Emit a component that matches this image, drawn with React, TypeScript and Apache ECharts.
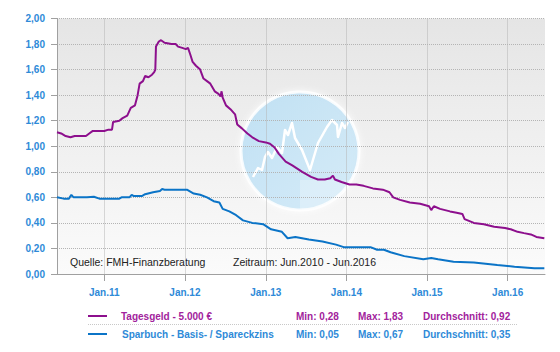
import React, { useEffect, useRef } from "react";
import * as echarts from "echarts";

const tagesDates = [
  "2010-06-01", "2010-06-20", "2010-07-10", "2010-08-01", "2010-08-20", "2010-09-15", "2010-10-10", "2010-10-25",
  "2010-11-10", "2010-12-10", "2011-01-01", "2011-01-20", "2011-02-05", "2011-02-10", "2011-03-10", "2011-03-25",
  "2011-04-15", "2011-05-01", "2011-05-20", "2011-06-01", "2011-06-10", "2011-06-25", "2011-07-05", "2011-07-20",
  "2011-08-05", "2011-08-15", "2011-08-20", "2011-08-23", "2011-09-05", "2011-09-15", "2011-10-01", "2011-11-01",
  "2011-11-20", "2011-12-01", "2011-12-20", "2012-01-05", "2012-01-15", "2012-01-25", "2012-02-05", "2012-02-20",
  "2012-03-10", "2012-03-25", "2012-04-10", "2012-04-25", "2012-05-15", "2012-06-01", "2012-06-10", "2012-06-15",
  "2012-06-20", "2012-07-05", "2012-07-25", "2012-08-15", "2012-08-25", "2012-09-15", "2012-10-10", "2012-11-01",
  "2012-12-01", "2013-01-01", "2013-01-20", "2013-02-10", "2013-03-01", "2013-04-01", "2013-05-01", "2013-06-15",
  "2013-07-25", "2013-08-25", "2013-09-25", "2013-10-20", "2013-11-01", "2013-11-10", "2013-12-10", "2014-01-15",
  "2014-02-15", "2014-03-20", "2014-05-01", "2014-06-15", "2014-07-15", "2014-08-01", "2014-09-01", "2014-10-15",
  "2014-12-01", "2015-01-10", "2015-01-20", "2015-02-01", "2015-03-01", "2015-04-15", "2015-05-15", "2015-06-10",
  "2015-06-20", "2015-08-01", "2015-09-15", "2015-11-01", "2015-12-20", "2016-01-15", "2016-02-15", "2016-03-15",
  "2016-04-15", "2016-05-10", "2016-06-15",
];
const tagesValues = [
  1.11, 1.10, 1.08, 1.07, 1.08, 1.08, 1.08, 1.10,
  1.12, 1.12, 1.12, 1.13, 1.13, 1.19, 1.20, 1.22,
  1.24, 1.30, 1.32, 1.40, 1.49, 1.51, 1.55, 1.54,
  1.56, 1.58, 1.60, 1.78, 1.82, 1.83, 1.81, 1.80,
  1.80, 1.78, 1.77, 1.76, 1.77, 1.72, 1.66, 1.63,
  1.60, 1.53, 1.51, 1.49, 1.43, 1.41, 1.39, 1.43,
  1.38, 1.32, 1.29, 1.25, 1.17, 1.14, 1.10, 1.07,
  1.04, 1.03, 1.02, 0.99, 0.94, 0.88, 0.85, 0.80,
  0.76, 0.74, 0.74, 0.75, 0.77, 0.74, 0.72, 0.70,
  0.70, 0.69, 0.67, 0.66, 0.64, 0.60, 0.58, 0.56,
  0.55, 0.53, 0.50, 0.53, 0.51, 0.49, 0.48, 0.47,
  0.43, 0.40, 0.39, 0.37, 0.36, 0.35, 0.33, 0.32,
  0.31, 0.29, 0.28,
];

const sparDates = [
  "2010-06-01", "2010-07-01", "2010-07-25", "2010-08-05", "2010-08-15", "2010-10-15", "2010-11-15", "2010-12-10",
  "2011-03-10", "2011-03-20", "2011-04-25", "2011-05-05", "2011-05-15", "2011-06-20", "2011-07-05", "2011-08-10",
  "2011-09-10", "2011-09-20", "2011-10-01", "2012-01-10", "2012-02-10", "2012-03-10", "2012-04-10", "2012-05-10",
  "2012-06-05", "2012-06-20", "2012-07-20", "2012-08-20", "2012-09-20", "2012-11-01", "2012-12-20", "2013-01-25",
  "2013-03-15", "2013-04-10", "2013-05-15", "2013-07-15", "2013-09-15", "2013-11-15", "2013-12-20", "2014-04-20",
  "2014-05-20", "2014-06-20", "2014-07-20", "2014-09-20", "2014-12-15", "2015-01-20", "2015-02-20", "2015-05-01",
  "2015-08-01", "2015-11-15", "2016-02-01", "2016-05-01", "2016-06-15",
];
const sparValues = [
  0.60, 0.59, 0.59, 0.62, 0.60, 0.60, 0.605, 0.59,
  0.59, 0.60, 0.60, 0.62, 0.61, 0.61, 0.625, 0.64,
  0.65, 0.665, 0.66, 0.66, 0.63, 0.62, 0.60, 0.57,
  0.56, 0.51, 0.49, 0.46, 0.42, 0.40, 0.39, 0.35,
  0.33, 0.28, 0.29, 0.27, 0.255, 0.23, 0.21, 0.21,
  0.19, 0.19, 0.17, 0.14, 0.115, 0.125, 0.115, 0.096,
  0.09, 0.07, 0.057, 0.045, 0.045,
];

const seriesNames = ["Tagesgeld - 5.000 €", "Sparbuch - Basis- / Spareckzins"];
const statMin = ["0,28", "0,05"];
const statMax = ["1,83", "0,67"];
const statAvg = ["0,92", "0,35"];
const sourceText = "Quelle: FMH-Finanzberatung";
const periodText = "Zeitraum: Jun.2010 - Jun.2016";
const logoLine = [
  [253, 177], [258, 168], [262, 170], [265, 157], [268, 152], [272, 158], [277, 147], [282, 153],
  [285, 130], [288, 135], [292, 123], [295, 138], [302, 150], [310, 170], [318, 143], [327, 127],
  [332, 120], [337, 125], [338, 137], [342, 123], [345, 128], [348, 122],
];

const PURPLE = "#8d0f8d";
const BLUE = "#0b74c7";
const PURPLE_TXT = "#a2229c";
const BLUE_TXT = "#2e8ad8";
const FONT = "Liberation Sans, Arial, sans-serif";

export default function App() {
  const ref = useRef<HTMLDivElement>(null);
  useEffect(() => {
    if (!ref.current) return;
    const chart = echarts.init(ref.current, null, { renderer: "svg" });

    const cx = 300, cy = 151, r = 59;
    const quad: number[][] = [[cx, 180]];
    const a0 = Math.asin((180 - cy) / r);
    for (let i = 0; i <= 10; i++) {
      const a = a0 + ((Math.PI / 2 - a0) * i) / 10;
      quad.push([cx + r * Math.cos(a), cy + r * Math.sin(a)]);
    }

    const legendRows = seriesNames.map((name, i) => {
      const y = i === 0 ? 316 : 334;
      const color = i === 0 ? PURPLE_TXT : BLUE_TXT;
      const lineColor = i === 0 ? PURPLE : BLUE;
      const tstyle = (text: string, x: number) => ({
        type: "text",
        x,
        y,
        style: { text, fill: color, font: `bold 10px ${FONT}`, textVerticalAlign: "middle" },
        silent: true,
      });
      return [
        { type: "line", shape: { x1: 88, y1: y, x2: 107, y2: y }, style: { stroke: lineColor, lineWidth: 2 } },
        tstyle(name, 121 + i),
        tstyle("Min: " + statMin[i], 296),
        tstyle("Max: " + statMax[i], 358),
        tstyle("Durchschnitt: " + statAvg[i], 423),
      ];
    }).flat();

    chart.setOption({
      animation: false,
      grid: {
        left: 57,
        right: 15,
        top: 18.5,
        bottom: 78,
        show: false,
      },
      xAxis: {
        type: "time",
        min: "2010-06-01",
        max: "2016-06-18",
        minInterval: 365 * 24 * 3600 * 1000,
        splitNumber: 6,
        z: 5,
        axisLine: { show: true, lineStyle: { color: "#a0a0a0", width: 1 } },
        axisTick: { show: true, length: 7, lineStyle: { color: "#a0a0a0" } },
        axisLabel: {
          color: BLUE_TXT,
          fontWeight: "bold",
          fontSize: 10,
          fontFamily: FONT,
          margin: 13,
          showMinLabel: false,
          showMaxLabel: false,
          formatter: (v: number) => "Jan." + String(new Date(v).getFullYear()).slice(2),
        },
        splitLine: {
          show: true,
          showMinLine: false,
          showMaxLine: false,
          lineStyle: { color: "#b4b4b4", type: "dotted", width: 1 },
        },
      },
      yAxis: {
        type: "value",
        min: 0,
        max: 2,
        interval: 0.2,
        z: 5,
        axisLine: { show: true, lineStyle: { color: "#a0a0a0", width: 1 } },
        axisTick: { show: true, length: 6, lineStyle: { color: "#a0a0a0" } },
        axisLabel: {
          color: BLUE_TXT,
          fontWeight: "bold",
          fontSize: 10,
          fontFamily: FONT,
          margin: 12,
          formatter: (v: number) => v.toFixed(2).replace(".", ","),
        },
        splitLine: { show: true, lineStyle: { color: "#b4b4b4", type: "dotted", width: 1 } },
      },
      graphic: [
        {
          type: "rect",
          z: -20,
          silent: true,
          shape: { x: 57, y: 18.5, width: 488, height: 255.5 },
          style: {
            fill: new echarts.graphic.LinearGradient(0, 0, 0, 1, [
              { offset: 0, color: "#e5e5e5" },
              { offset: 1, color: "#fbfbfb" },
            ]),
          },
        },
        {
          type: "circle",
          z: -10,
          silent: true,
          shape: { cx, cy, r },
          style: {
            fill: new echarts.graphic.LinearGradient(0, 0, 1, 1, [
              { offset: 0, color: "#b4dbf2" },
              { offset: 1, color: "#cde8f7" },
            ]),
            opacity: 0.85,
            stroke: "#ffffff",
            lineWidth: 3,
            shadowBlur: 6,
            shadowColor: "rgba(255,255,255,0.9)",
          },
        },
        {
          type: "polygon",
          z: -9,
          silent: true,
          shape: { points: quad },
          style: { fill: "rgba(255,255,255,0.25)" },
        },
        {
          type: "polyline",
          z: -8,
          silent: true,
          shape: { points: logoLine },
          style: { stroke: "#ffffff", lineWidth: 2.5, fill: "none", lineJoin: "round" },
        },
        {
          type: "text",
          x: 70,
          y: 262,
          silent: true,
          style: { text: sourceText, fill: "#222", font: `10.5px ${FONT}`, textVerticalAlign: "middle" },
        },
        {
          type: "text",
          x: 233,
          y: 262,
          silent: true,
          style: { text: periodText, fill: "#222", font: `10.5px ${FONT}`, textVerticalAlign: "middle" },
        },
        {
          type: "line",
          silent: true,
          shape: { x1: 88, y1: 324.5, x2: 517, y2: 324.5 },
          style: { stroke: "#c8c8c8", lineWidth: 1, lineDash: [1, 1] },
        },
        ...legendRows,
      ],
      series: [
        {
          name: seriesNames[0],
          type: "line",
          z: 10,
          showSymbol: false,
          data: tagesDates.map((d, i) => [d, tagesValues[i]]),
          lineStyle: { color: PURPLE, width: 2 },
          itemStyle: { color: PURPLE },
        },
        {
          name: seriesNames[1],
          type: "line",
          z: 10,
          showSymbol: false,
          data: sparDates.map((d, i) => [d, sparValues[i]]),
          lineStyle: { color: BLUE, width: 2 },
          itemStyle: { color: BLUE },
        },
      ],
    });
    return () => chart.dispose();
  }, []);
  return <div ref={ref} style={{ width: 560, height: 352, position: "absolute", left: 0, top: 0 }} />;
}
